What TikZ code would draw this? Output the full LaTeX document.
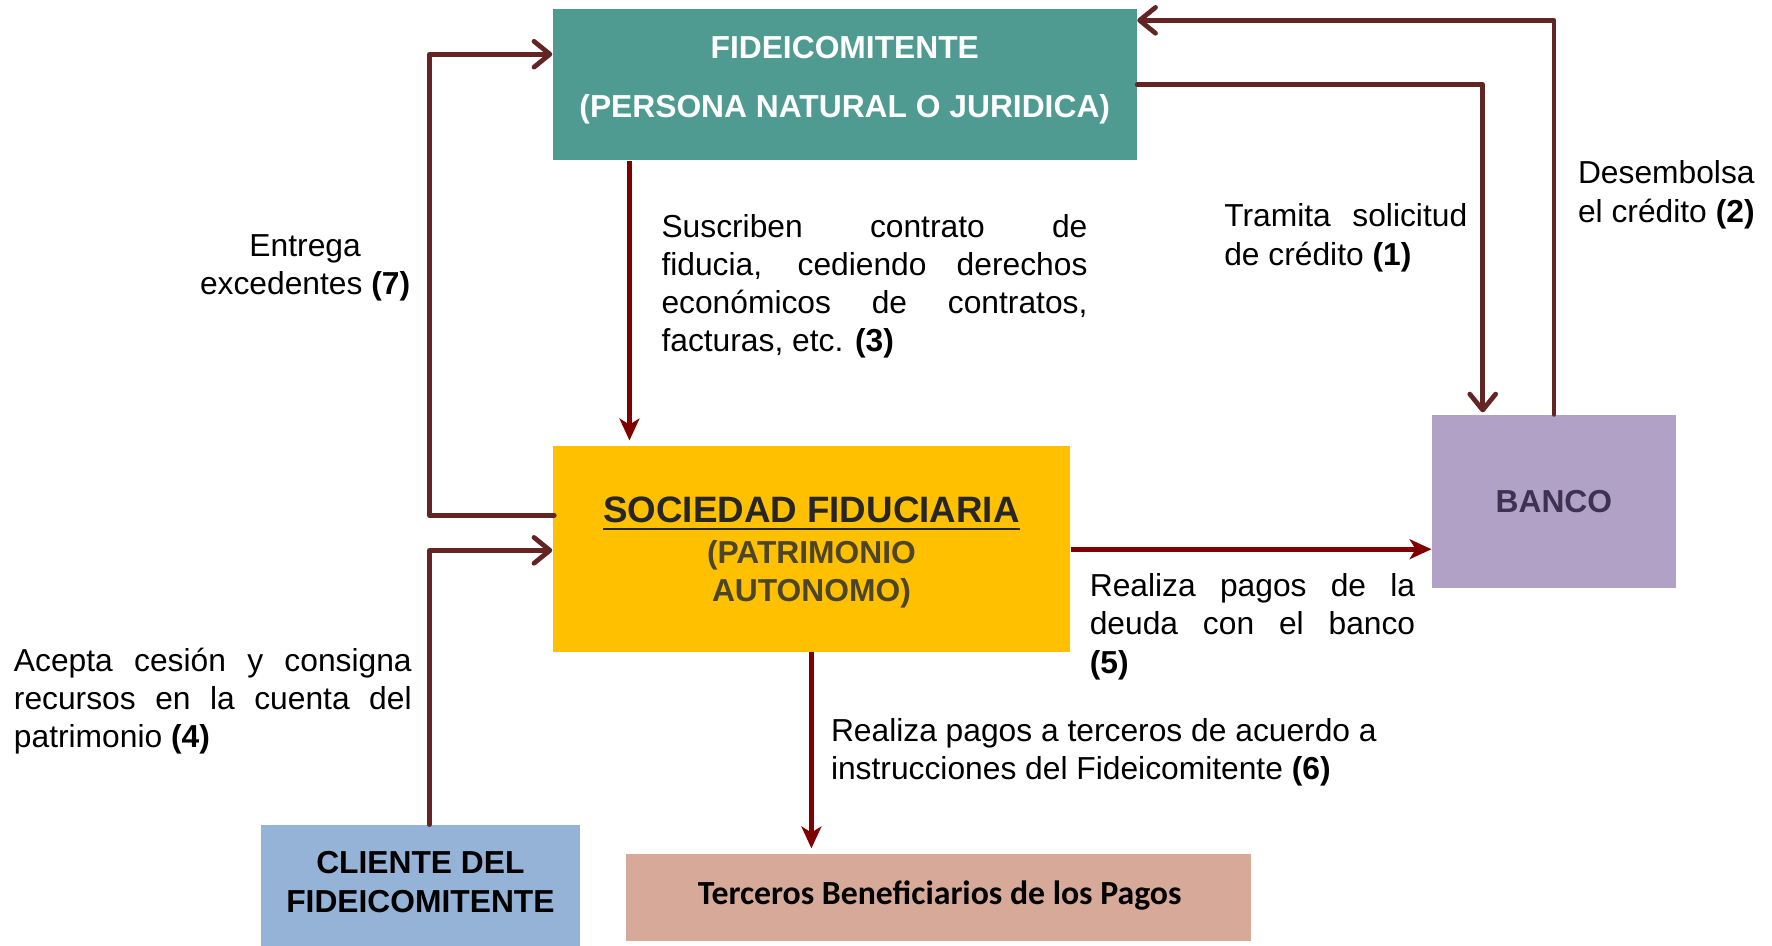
\documentclass[tikz,border=0pt]{standalone}
\usepackage{fontspec}
\setmainfont{Liberation Sans}
\newfontfamily\calib{Carlito}
\usetikzlibrary{arrows.meta,calc}
\definecolor{teal1}{HTML}{4F9B91}
\definecolor{gold1}{HTML}{FFC000}
\definecolor{lilac}{HTML}{B2A1C7}
\definecolor{sky}{HTML}{95B3D7}
\definecolor{salmon}{HTML}{D6A998}
\definecolor{darkred1}{HTML}{800000}
\definecolor{brown1}{HTML}{632523}
\definecolor{bancotxt}{HTML}{3F3151}
\definecolor{olivetxt}{HTML}{4D4527}
\newcommand\ulbar[1]{\setbox0\hbox{#1}\rlap{\rule[-4pt]{\wd0}{1.4pt}}\box0}
\begin{document}
\begin{tikzpicture}[x=0.02cm,y=-0.02cm,
 box/.style={rectangle, draw=none, inner sep=0pt, align=center},
 lbl/.style={inner sep=0pt, align=left, font=\fontsize{16}{19.3}\selectfont, anchor=north west},
 redarr/.style={draw=darkred1, line width=2.6pt, -{Stealth[length=11pt,width=10pt,inset=3pt]}},
 brnarr/.style={draw=brown1, line width=2.4pt, line join=round, line cap=round, -{Straight Barb[length=8pt,width=13pt,round]}}]
\useasboundingbox (0,0) rectangle (1568,837);
% boxes
\node[box, fill=teal1, minimum width=10.34cm, minimum height=2.68cm] (fid) at (747.5,75) {};
\node[box, text=white, font=\bfseries\fontsize{16}{29.5}\selectfont] (fidt) at (747.5,71) {FIDEICOMITENTE\\(PERSONA NATURAL O JURIDICA)};
\node[box, fill=gold1, minimum width=9.16cm, minimum height=3.64cm] (soc) at (718,486) {};
\node[box, text=black!85, font=\bfseries\fontsize{16}{19.5}\selectfont] (soct) at (718,489) {{\fontsize{18.5}{22}\selectfont\ulbar{SOCIEDAD FIDUCIARIA}}\\[1pt]\textcolor{olivetxt}{(PATRIMONIO}\\\textcolor{olivetxt}{AUTONOMO)}};
\node[box, fill=lilac, minimum width=4.32cm, minimum height=3.06cm, text=bancotxt, font=\bfseries\fontsize{16}{19.3}\selectfont] (banco) at (1375,443.5) {BANCO};
\node[box, fill=sky, minimum width=5.64cm, minimum height=2.14cm] (cli) at (372,783.5) {};
\node[box, font=\bfseries\fontsize{16}{19.3}\selectfont] (clit) at (372,780.5) {CLIENTE DEL\\FIDEICOMITENTE};
\node[box, fill=salmon, minimum width=11.06cm, minimum height=1.54cm] (ter) at (830.5,794.5) {};
\node[box, font=\calib\bfseries\fontsize{17}{20}\selectfont] (tert) at (831.5,792) {Terceros Beneficiarios de los Pagos};
% helper coordinates
\coordinate (x3) at (557,0);
\coordinate (x1) at (1312,0);
\coordinate (y2) at (0,18);
\coordinate (x7) at (380,0);
\coordinate (y7) at (0,456);
\coordinate (y7b) at (0,48);
\coordinate (y4) at (0,487);
% red arrows
\draw[redarr, shorten >=2.8pt] (x3 |- fid.south) -- (x3 |- soc.north);
\draw[redarr] (soc.east) -- (soc.east -| banco.west);
\draw[redarr, shorten >=2.8pt] (soc.south) -- (ter.north -| soc.south);
% brown arrows
\draw[brnarr, shorten >=1pt] (fid.east) -| (x1 |- banco.north);
\draw[brnarr] (banco.north) |- (fid.east |- y2);
\draw[brnarr] ([xshift=1pt]soc.west |- y7) -| (x7 |- y7b) -- (fid.west |- y7b);
\draw[brnarr] (cli.north -| x7) |- (soc.west |- y4);
% labels
\node[lbl, align=center, anchor=north] (l7) at (270,207) {Entrega\\excedentes \textbf{(7)}};
\node[lbl] (l3) at (585,189) {\makebox[7.54cm][s]{Suscriben contrato de}\\\makebox[7.54cm][s]{fiducia, cediendo derechos}\\\makebox[7.54cm][s]{económicos de contratos,}\\facturas, etc. \textbf{(3)}};
\node[lbl] (l1) at (1083,180) {\makebox[4.3cm][s]{Tramita solicitud}\\de crédito \textbf{(1)}};
\node[lbl] (l2) at (1396,142) {Desembolsa\\el crédito \textbf{(2)}};
\node[lbl] (l5) at (964,507) {\makebox[5.76cm][s]{Realiza pagos de la}\\\makebox[5.76cm][s]{deuda con el banco}\\\textbf{(5)}};
\node[lbl] (l4) at (12,573) {\makebox[7.04cm][s]{Acepta cesión y consigna}\\\makebox[7.04cm][s]{recursos en la cuenta del}\\patrimonio \textbf{(4)}};
\node[lbl] (l6) at (735,635) {Realiza pagos a terceros de acuerdo a\\instrucciones del Fideicomitente \textbf{(6)}};
\end{tikzpicture}
\end{document}
